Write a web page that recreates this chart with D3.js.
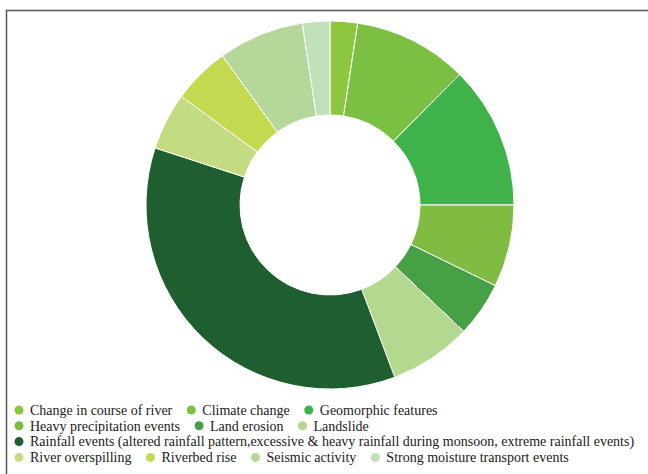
<!DOCTYPE html>
<html>
<head>
<meta charset="utf-8">
<script src="https://cdn.jsdelivr.net/npm/d3@7"></script>
<style>
    html, body { margin: 0; padding: 0; background: #fff; }
    svg { display: block; }
    .legend text { font-family: "Liberation Serif", "Times New Roman", serif; font-size: 14px; fill: #1a1a1a; }
</style>
</head>
<body>
<svg id="chart" width="648" height="474"></svg>
<script>
    // Data (share of studies, %)
    const categories = [
        'Change in course of river',
        'Climate change',
        'Geomorphic features',
        'Heavy precipitation events',
        'Land erosion',
        'Landslide',
        'Rainfall events (altered rainfall pattern,excessive & heavy rainfall during monsoon, extreme rainfall events)',
        'River overspilling',
        'Riverbed rise',
        'Seismic activity',
        'Strong moisture transport events'
    ];
    const values = [2.4, 10, 12.5, 7.2, 4.8, 7.2, 35.6, 5, 5, 7.5, 2.4];
    const colors = ['#8dc63f', '#7bc043', '#3fb34a', '#80bc41', '#45a046', '#b3d88f',
                    '#1e5e2f', '#c3dc82', '#c3d94f', '#b5d89a', '#bfe0b8'];

    // Layout
    const CX = 330, CY = 205;
    const R_OUTER = 184, R_INNER = 90;
    const LEGEND_X = 14, LEGEND_Y = 410, LEGEND_ROW = 15.8, LEGEND_MAX = 590;

    const svg = d3.select('#chart');

    // Frame (top and left edges only)
    svg.append('path')
        .attr('d', 'M6.5,474 V10.5 H648')
        .attr('fill', 'none')
        .attr('stroke', '#555')
        .attr('stroke-width', 1.5);

    const items = categories.map((c, i) => ({ name: c, value: values[i], color: colors[i] }));

    const pie = d3.pie().sort(null).value((d) => d.value);
    const arc = d3.arc().innerRadius(R_INNER).outerRadius(R_OUTER);

    svg.append('g')
        .attr('transform', 'translate(' + CX + ',' + CY + ')')
        .selectAll('path')
        .data(pie(items))
        .enter().append('path')
            .attr('d', arc)
            .attr('fill', (d) => d.data.color)
            .attr('stroke', '#fff')
            .attr('stroke-width', 1);

    // Legend, flowed into rows
    const legend = svg.append('g').attr('class', 'legend');
    let x = LEGEND_X, y = LEGEND_Y;
    items.forEach((d) => {
        let g = legend.append('g');
        g.append('circle').attr('cx', 5).attr('cy', 0).attr('r', 4.5).attr('fill', d.color);
        let t = g.append('text').attr('x', 16).attr('y', 4.8).text(d.name);
        let w = 16 + t.node().getComputedTextLength();
        if (x > LEGEND_X && x + w > LEGEND_X + LEGEND_MAX) {
            x = LEGEND_X;
            y += LEGEND_ROW;
        }
        g.attr('transform', 'translate(' + x + ',' + y + ')');
        x += w + 14;
    });
</script>
</body>
</html>
